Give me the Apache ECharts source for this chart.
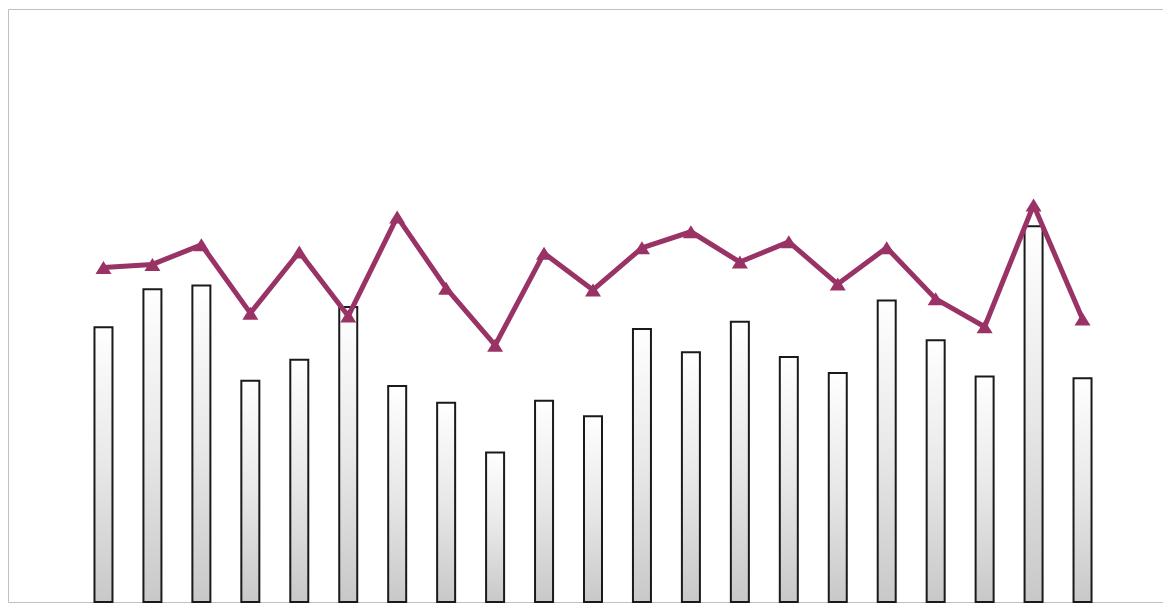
<!DOCTYPE html>
<html>
<head>
<meta charset="utf-8">
<style>
  html, body { margin: 0; padding: 0; background: #ffffff; }
  #chart { width: 1163px; height: 603px; }
</style>
<script src="https://cdn.jsdelivr.net/npm/echarts@6/dist/echarts.min.js"></script>
</head>
<body>
<div id="chart"></div>
<script>
const categories = ['1','2','3','4','5','6','7','8','9','10','11','12','13','14','15','16','17','18','19','20','21'];
const barValues = [46.6, 53.0, 53.6, 37.6, 41.1, 50.0, 36.7, 33.9, 25.5, 34.2, 31.6, 46.3, 42.4, 47.5, 41.6, 38.9, 51.1, 44.4, 38.3, 63.6, 38.0];
const lineValues = [56.5, 57.0, 60.3, 48.8, 59.1, 48.3, 65.0, 53.0, 43.4, 58.9, 52.7, 59.8, 62.5, 57.4, 60.8, 53.7, 59.8, 51.2, 46.5, 67.0, 47.8];

const chart = echarts.init(document.getElementById('chart'), null, { renderer: 'canvas' });
chart.setOption({
  animation: false,
  backgroundColor: '#ffffff',
  graphic: [{
    type: 'rect',
    z: -10,
    silent: true,
    shape: { x: 8.5, y: 9.5, width: 1170, height: 593 },
    style: { fill: 'none', stroke: '#c0c0c0', lineWidth: 1 }
  }],
  grid: { left: 79, right: 56, top: 9, bottom: 0, containLabel: false },
  xAxis: {
    type: 'category',
    data: categories,
    boundaryGap: true,
    axisLine: { show: false },
    axisTick: { show: false },
    axisLabel: { show: false },
    splitLine: { show: false }
  },
  yAxis: {
    type: 'value',
    min: 0,
    max: 100,
    axisLine: { show: false },
    axisTick: { show: false },
    axisLabel: { show: false },
    splitLine: { show: false }
  },
  series: [
    {
      type: 'bar',
      data: barValues,
      barWidth: 20,
      z: 2,
      itemStyle: {
        color: {
          type: 'linear', x: 0, y: 0, x2: 0, y2: 1,
          colorStops: [
            { offset: 0, color: '#ffffff' },
            { offset: 0.5, color: '#e8e8e8' },
            { offset: 1, color: '#c8c8c8' }
          ]
        },
        borderColor: '#1a1a1a',
        borderWidth: 2
      }
    },
    {
      type: 'line',
      data: lineValues,
      z: 5,
      symbol: 'triangle',
      symbolSize: [16, 13],
      lineStyle: { color: '#993366', width: 5 },
      itemStyle: { color: '#993366' }
    }
  ]
});
</script>
</body>
</html>
